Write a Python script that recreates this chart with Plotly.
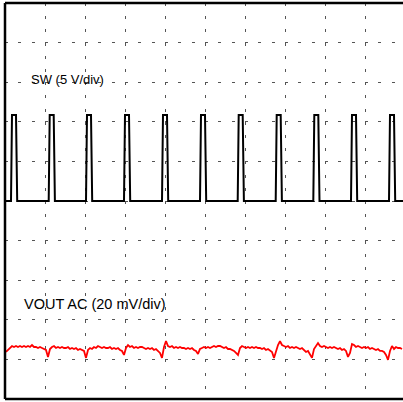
import numpy as np
import plotly.graph_objects as go

# ---- data (time in divisions, 10 div across screen) ----
SW_VOLT_PER_DIV = 5.0
SW_OFFSET_DIV = 5.0          # ground marker of SW channel
SW_HIGH_V = 10.85
SW_LOW_V = 0.0
sw_rise_times = [0.15, 1.0925, 2.025, 2.975, 3.925, 4.875, 5.8175, 6.7675, 7.7075, 8.65, 9.6]
sw_pulse_shape_t = [0.0, 0.025, 0.125, 0.155]   # relative times of pulse corners
sw_pulse_shape_v = [SW_LOW_V, SW_HIGH_V, SW_HIGH_V, SW_LOW_V]

VOUT_MV_PER_DIV = 20.0
VOUT_OFFSET_DIV = 1.263
vout_t0 = 0.025
vout_dt = 0.05
vout_mv = [
    -1.5, -0.5, 1.0, 1.5, 1.0, 1.5, 1.0, 1.5, 1.0, 1.5, 1.0, 1.5, 1.0, 2.0, 1.0, 1.0, 0.5, 1.0, 0.5, 0.0,
    -0.5, -4.0, 0.0, 1.0, 1.5, 0.5, 1.0, 0.5, 1.0, 0.5, 0.5, 1.0, 0.0, 0.5, 0.0, 0.5, -0.5, 0.0, -0.5, -1.0,
    -4.5, -0.5, 0.5, 0.0, 1.0, 0.5, 1.5, 1.0, 0.5, 1.0, 0.5, 0.5, 1.0, 0.0, 0.5, 0.0, 0.5, -0.5, -1.0, -3.0,
    0.5, 2.0, 1.0, 1.5, 0.5, 1.0, 0.5, 1.0, 1.0, 0.5, 0.0, 0.5, 0.0, 0.5, -0.5, 0.0, -1.0, -2.0, -4.5, 1.0,
    4.0, 1.5, 1.0, 1.5, 0.5, 1.0, 0.5, 1.0, 0.5, 0.5, 0.0, 0.5, 0.0, 0.5, -0.5, -1.0, -2.5, 0.0, 0.5, 1.0,
    0.5, 1.0, 0.5, 1.0, 1.5, 1.0, 1.5, 1.5, 1.0, 0.5, 1.0, 0.0, 0.0, -0.5, -1.0, -2.0, -3.0, 0.5, 1.5, 1.0,
    0.5, 1.0, 0.5, 1.0, 0.5, 1.0, 0.5, 0.5, 0.0, 0.5, -0.5, 0.0, -1.0, -1.5, -4.5, -0.5, 2.0, 4.0, 2.0, 1.5,
    1.0, 1.5, 0.5, 1.0, 0.5, 1.0, 0.5, 0.0, 0.5, -0.5, -1.5, -1.0, -3.0, -4.5, 0.0, 1.5, 3.0, 1.5, 1.0, 1.5,
    1.0, 0.5, 1.0, 0.5, 1.0, 0.5, 0.0, 0.5, -0.5, 0.0, -1.0, -4.0, -2.0, 2.5, 2.0, 1.0, 1.5, 1.0, 0.5, 1.0,
    0.5, 1.0, 0.0, 0.5, 0.0, -0.5, 0.0, -1.0, -1.0, -1.5, -3.0, -5.5, -1.0, 1.5, 0.0, 1.0, 0.5, 0.5, 0.0,
]

# ---- build traces ----
sw_t = [0.0]
sw_v = [SW_LOW_V]
for tr in sw_rise_times:
    for dt, v in zip(sw_pulse_shape_t, sw_pulse_shape_v):
        sw_t.append(tr + dt)
        sw_v.append(v)
sw_t.append(10.0)
sw_v.append(SW_LOW_V)
sw_y = [SW_OFFSET_DIV + v / SW_VOLT_PER_DIV for v in sw_v]

vout_t = [vout_t0 + vout_dt * i for i in range(len(vout_mv))]
vout_y = [VOUT_OFFSET_DIV + v / VOUT_MV_PER_DIV for v in vout_mv]

fig = go.Figure()
fig.add_trace(go.Scatter(x=sw_t, y=sw_y, mode="lines",
                         line=dict(color="black", width=2), hoverinfo="skip"))
fig.add_trace(go.Scatter(x=vout_t, y=vout_y, mode="lines",
                         line=dict(color="#ff0000", width=1.8), hoverinfo="skip"))

W, H = 403, 402
ML, MR, MT, MB = 5, 0, 3, 3
plot_w = W - ML - MR
fig.update_layout(
    width=W, height=H,
    margin=dict(l=ML, r=MR, t=MT, b=MB, pad=0),
    paper_bgcolor="white", plot_bgcolor="white",
    showlegend=False,
    xaxis=dict(range=[0, plot_w / 40.0], dtick=1, tick0=0, showticklabels=False,
               ticks="", showgrid=True, gridcolor="#555555", gridwidth=1,
               griddash="3px,10.2px", zeroline=False, showline=False, fixedrange=True),
    yaxis=dict(range=[0, 10], dtick=1, tick0=0, showticklabels=False,
               ticks="", showgrid=True, gridcolor="#555555", gridwidth=1,
               griddash="3px,10.33px", zeroline=False, showline=False, fixedrange=True),
    annotations=[
        dict(text="SW (5 V/div)", x=0.6, y=8.06, xref="x", yref="y",
             xanchor="left", yanchor="middle", showarrow=False,
             font=dict(family="Liberation Sans, Arial", size=13, color="black")),
        dict(text="VOUT AC (20 mV/div)", x=0.42, y=2.4, xref="x", yref="y",
             xanchor="left", yanchor="middle", showarrow=False,
             font=dict(family="Liberation Sans, Arial", size=14.5, color="black")),
    ],
    shapes=[
        dict(type="line", xref="paper", yref="paper", x0=0, x1=0, y0=0, y1=1,
             line=dict(color="black", width=2.5)),
        dict(type="line", xref="paper", yref="paper", x0=0, x1=1, y0=1, y1=1,
             line=dict(color="black", width=2.5)),
        dict(type="line", xref="paper", yref="paper", x0=0, x1=1, y0=0, y1=0,
             line=dict(color="black", width=2.5)),
    ],
)

fig.write_html("out.html", config={"displayModeBar": False},
               post_script="document.body.style.margin='0';document.body.style.overflow='hidden';")
